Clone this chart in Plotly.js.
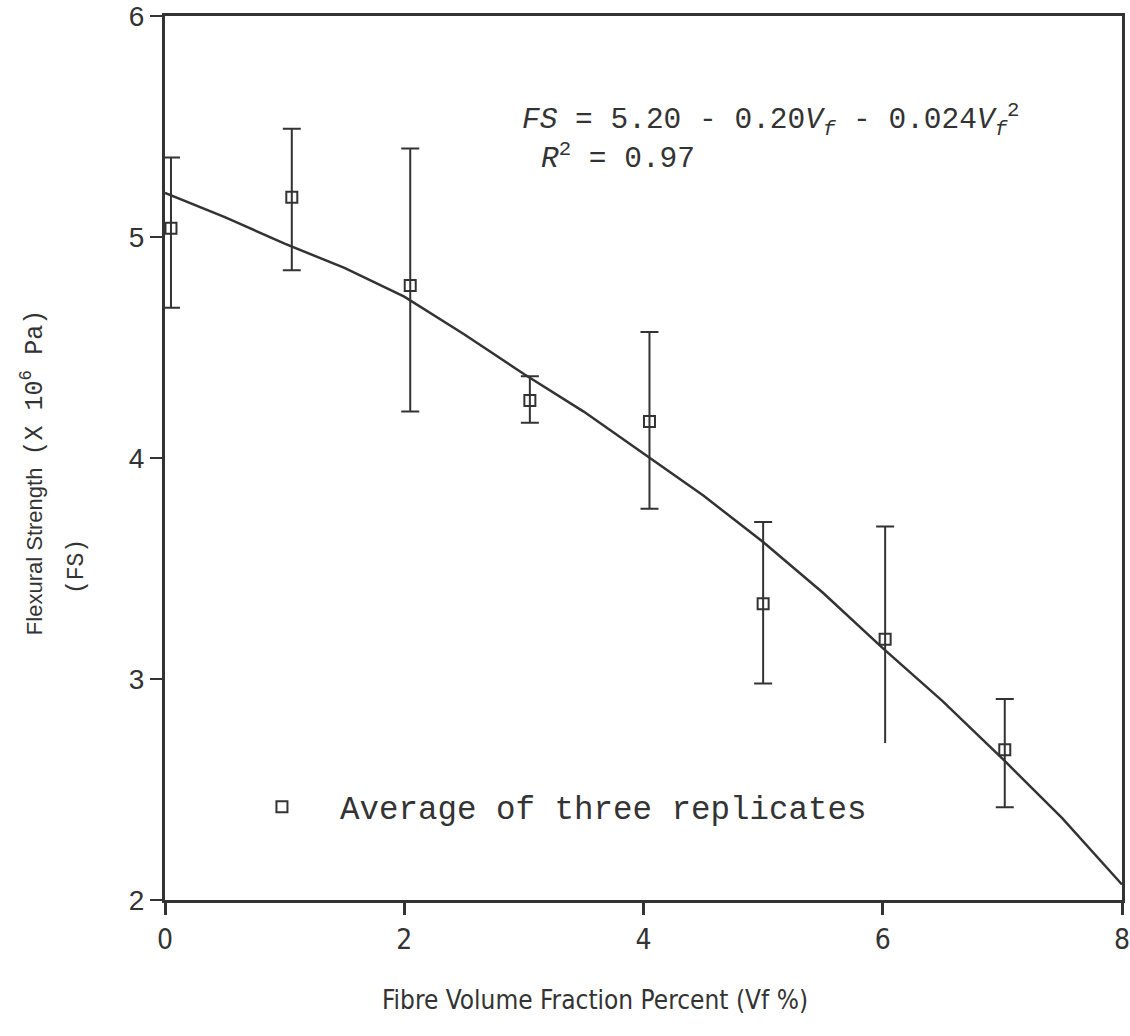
<!DOCTYPE html>
<html>
<head>
<meta charset="utf-8">
<script src="https://cdn.plot.ly/plotly-3.0.1.min.js"></script>
<style>
  html, body { margin: 0; padding: 0; background: #fff; }
  #chart { width: 1130px; height: 1036px; }
</style>
</head>
<body>
<div id="chart"></div>
<script>
// Measured points (average of three replicates)
const vf      = [0.05, 1.06, 2.05, 3.05, 4.05, 5.0, 6.02, 7.02];
const fsMean  = [5.04, 5.18, 4.78, 4.26, 4.165, 3.34, 3.18, 2.68];
const fsUpper = [5.36, 5.49, 5.40, 4.37, 4.57, 3.71, 3.69, 2.91];
const fsLower = [4.68, 4.85, 4.21, 4.16, 3.77, 2.98, 2.71, 2.42];
// index whose lower error bar has no cap
const openLowerIdx = 6;

// Fitted curve
const fitX = [0, 0.5, 1, 1.5, 2, 2.5, 3, 3.5, 4, 4.5, 5, 5.5, 6, 6.5, 7, 7.5, 8];
const fitY = [5.20, 5.09, 4.97, 4.86, 4.73, 4.56, 4.38, 4.21, 4.02, 3.83, 3.62, 3.39, 3.14, 2.90, 2.64, 2.37, 2.07];

const xTicks = [0, 2, 4, 6, 8];
const yTicks = [2, 3, 4, 5, 6];

const ink = '#333333';
const mono = '"Liberation Mono", "DejaVu Sans Mono", monospace';
const narrow = '"Liberation Sans Narrow", "DejaVu Sans Condensed", "Liberation Sans", Arial, sans-serif';
const sans = '"Liberation Sans", Arial, sans-serif';

const errPlus = vf.map((_, i) => i === openLowerIdx ? NaN : fsUpper[i] - fsMean[i]);
const errMinus = vf.map((_, i) => i === openLowerIdx ? NaN : fsMean[i] - fsLower[i]);

const traces = [
  {
    x: fitX, y: fitY, mode: 'lines', type: 'scatter',
    line: { color: ink, width: 2.5 }, showlegend: false, hoverinfo: 'skip'
  },
  // stem without bottom cap for the special point
  {
    x: [vf[openLowerIdx]], y: [fsUpper[openLowerIdx]], mode: 'none', type: 'scatter',
    showlegend: false,
    error_y: { type: 'data', symmetric: false, array: [0],
               arrayminus: [fsUpper[openLowerIdx] - fsLower[openLowerIdx]],
               width: 0, thickness: 2, color: ink }
  },
  // top cap for the special point
  {
    x: [vf[openLowerIdx]], y: [fsUpper[openLowerIdx]], mode: 'none', type: 'scatter',
    showlegend: false,
    error_y: { type: 'data', symmetric: false, array: [0], arrayminus: [0],
               width: 9, thickness: 2, color: ink }
  },
  {
    x: vf, y: fsMean, mode: 'markers', type: 'scatter',
    name: 'Average of three replicates',
    marker: { symbol: 'square-open', size: 11, color: ink, line: { width: 2, color: ink } },
    error_y: { type: 'data', symmetric: false, array: errPlus, arrayminus: errMinus,
               width: 9, thickness: 2, color: ink },
    showlegend: true
  }
];

const layout = {
  width: 1130, height: 1036,
  paper_bgcolor: '#fff', plot_bgcolor: '#fff',
  margin: { l: 165, r: 8, t: 16, b: 136 },
  showlegend: true,
  legend: {
    x: 0.0616, y: 0.105, xanchor: 'left', yanchor: 'middle',
    font: { family: mono, size: 32.5, color: ink },
    bgcolor: 'rgba(0,0,0,0)', itemwidth: 106, tracegroupgap: 0
  },
  xaxis: {
    range: [0, 8], tickvals: xTicks, ticktext: xTicks.map(String),
    showgrid: false, zeroline: false,
    showline: true, linecolor: ink, linewidth: 3, mirror: true,
    ticks: 'outside', ticklen: 12, tickwidth: 3, tickcolor: ink,
    tickfont: { family: narrow, size: 28, color: ink },
    ticklabeloverflow: 'allow',
    fixedrange: true
  },
  yaxis: {
    range: [2, 6], tickvals: yTicks, ticktext: yTicks.map(String),
    showgrid: false, zeroline: false,
    showline: true, linecolor: ink, linewidth: 3, mirror: true,
    ticks: 'outside', ticklen: 12, tickwidth: 2, tickcolor: ink,
    tickfont: { family: sans, size: 28, color: ink },
    ticklabeloverflow: 'allow',
    fixedrange: true
  },
  annotations: [
    {
      xref: 'paper', yref: 'paper', x: 0.3706, y: 0.882, xanchor: 'left', yanchor: 'middle',
      showarrow: false, font: { family: mono, size: 29.5, color: ink },
      text: '<i>FS</i> = 5.20 - 0.20<i>V</i><sub><i>f</i></sub> - 0.024<i>V</i><sub><i>f</i></sub><sup>2</sup>'
    },
    {
      xref: 'paper', yref: 'paper', x: 0.391, y: 0.841, xanchor: 'left', yanchor: 'middle',
      showarrow: false, font: { family: mono, size: 29.5, color: ink },
      text: '<i>R</i><sup>2</sup> = 0.97'
    },
    {
      xref: 'paper', yref: 'paper', x: -0.1378, y: 0.483, xanchor: 'center', yanchor: 'middle',
      showarrow: false, textangle: -90, font: { family: sans, size: 22, color: ink },
      text: 'Flexural Strength  <span style="font-family:\'Liberation Mono\', monospace; font-size:25px">(X 10<sup>6</sup> Pa)</span>'
    },
    {
      xref: 'paper', yref: 'paper', x: -0.0919, y: 0.3767, xanchor: 'center', yanchor: 'middle',
      showarrow: false, textangle: -90, font: { family: mono, size: 23, color: ink },
      text: '(FS)'
    },
    {
      xref: 'paper', yref: 'paper', x: 0.449, y: -0.113, xanchor: 'center', yanchor: 'middle',
      showarrow: false, font: { family: narrow, size: 26, color: ink },
      text: 'Fibre Volume Fraction Percent (Vf %)'
    }
  ]
};

Plotly.newPlot('chart', traces, layout, { staticPlot: true, displayModeBar: false });
</script>
</body>
</html>
